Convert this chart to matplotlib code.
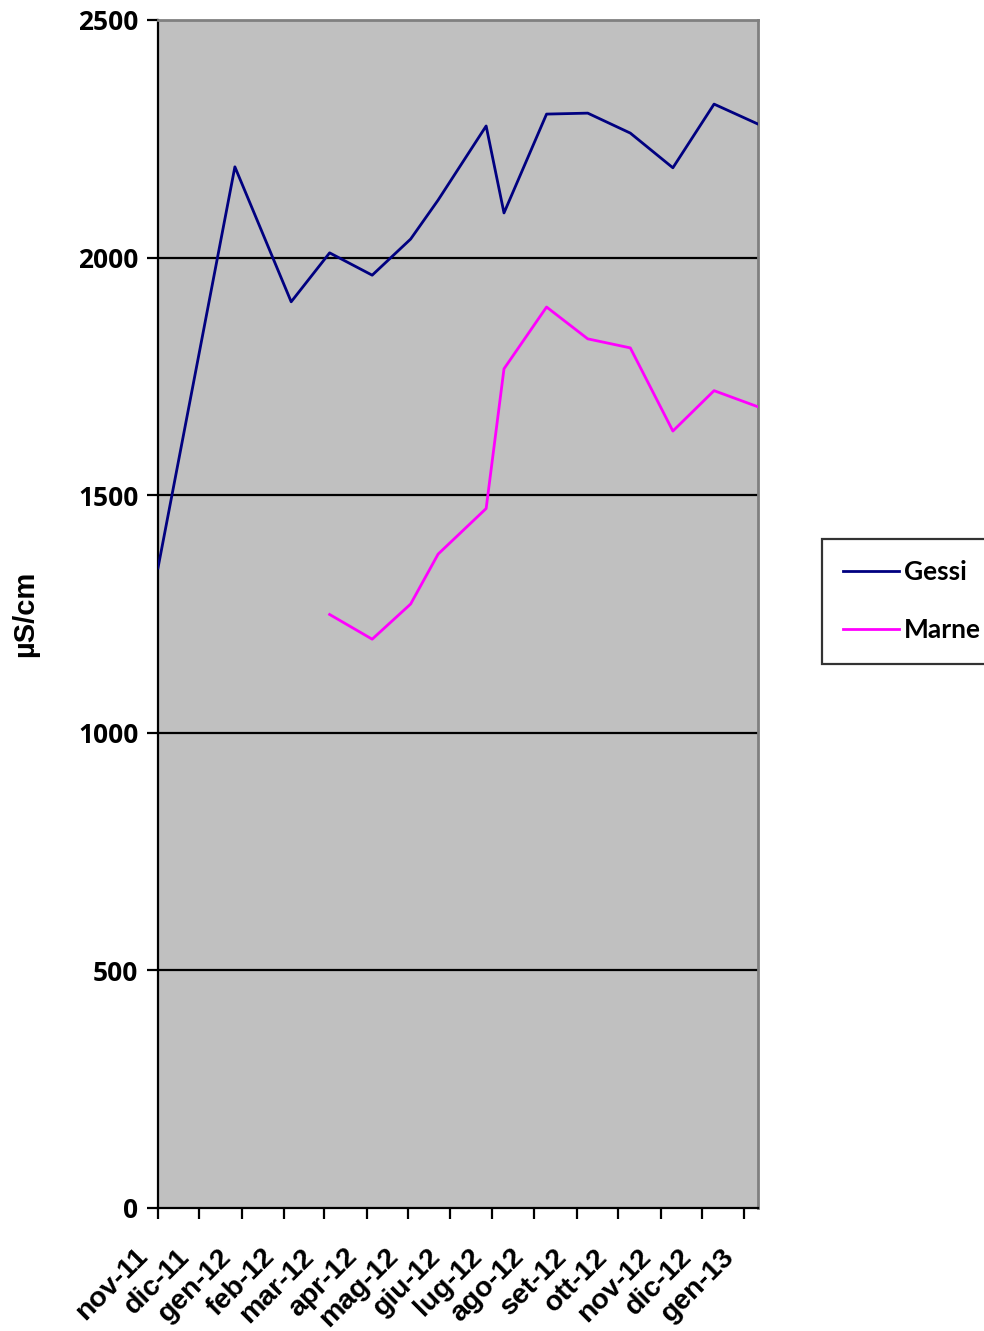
''' conducibilita Gessi / Marne '''
import numpy as np
import pandas as pd
import matplotlib
matplotlib.use('Agg')
import matplotlib.pyplot as plt
import matplotlib.transforms as mtrans

# dati
date = ['2011-11-01', '2011-12-27', '2012-02-06', '2012-03-05', '2012-04-05',
        '2012-05-03', '2012-05-23', '2012-06-27', '2012-07-10', '2012-08-10',
        '2012-09-09', '2012-10-10', '2012-11-10', '2012-12-10', '2013-01-11']
gessi = [1347, 2191, 1907, 2010, 1963, 2039, 2121, 2277, 2094, 2302,
         2304, 2262, 2189, 2323, 2281]
marne = [np.nan, np.nan, np.nan, 1249, 1197, 1271, 1376, 1472, 1766, 1896,
         1829, 1810, 1635, 1720, 1686]
mesi = ['nov-11', 'dic-11', 'gen-12', 'feb-12', 'mar-12', 'apr-12', 'mag-12',
        'giu-12', 'lug-12', 'ago-12', 'set-12', 'ott-12', 'nov-12', 'dic-12',
        'gen-13']
y_ticks = [0, 500, 1000, 1500, 2000, 2500]

df = pd.DataFrame({'data': pd.to_datetime(date), 'Gessi': gessi, 'Marne': marne})
tick_date = pd.date_range('2011-11-01', periods=len(mesi), freq='MS')

fig = plt.figure(figsize=(9.84, 13.31), dpi=100)
ax = fig.add_axes([158 / 984, 1 - 1208 / 1331, 600 / 984, 1188 / 1331])
ax.set_facecolor('#C0C0C0')

ax.plot(df['data'], df['Gessi'], color='#000080', lw=2.0, label='Gessi', zorder=3)
ax.plot(df['data'], df['Marne'], color='#FF00FF', lw=2.0, label='Marne', zorder=3)

ax.set_ylim(0, 2500)
ax.set_yticks(y_ticks)
ax.set_yticklabels([str(v) for v in y_ticks], fontfamily='Open Sans',
                   fontweight='bold', fontsize=19)
for v in y_ticks[1:-1]:
    ax.axhline(v, color='black', lw=1.6, zorder=2)

ax.set_xlim(df['data'].iloc[0], df['data'].iloc[-1])
ax.set_xticks(tick_date)
ax.set_xticklabels(mesi, rotation=45, ha='right', rotation_mode='anchor',
                   fontfamily='Liberation Sans', fontweight='bold', fontsize=20.5)

ax.tick_params(axis='both', direction='out', length=8, width=1.6, color='black')
ax.tick_params(axis='x', pad=14)
ax.tick_params(axis='y', pad=6)

# etichette mese un po' a sinistra, come in Excel
sposta = mtrans.ScaledTranslation(-23 / 100, -5 / 100, fig.dpi_scale_trans)
for lab in ax.get_xticklabels():
    lab.set_transform(lab.get_transform() + sposta)

for s in ['left', 'bottom']:
    ax.spines[s].set_color('black')
    ax.spines[s].set_linewidth(1.6)
for s in ['top', 'right']:
    ax.spines[s].set_color('#808080')
    ax.spines[s].set_linewidth(2)

ax.set_ylabel('µS/cm', fontfamily='Liberation Sans', fontweight='bold',
              fontsize=21, labelpad=28)

leg = fig.legend(loc='upper left', bbox_to_anchor=(822 / 984, 1 - 539 / 1331),
                 prop={'family': 'Lato', 'weight': 'bold', 'size': 19},
                 frameon=True, fancybox=False, edgecolor='black',
                 handlelength=2.1, handletextpad=0.2, labelspacing=1.3,
                 borderpad=0.8, borderaxespad=0)
leg.get_frame().set_linewidth(1.6)

plt.savefig('out.png')
